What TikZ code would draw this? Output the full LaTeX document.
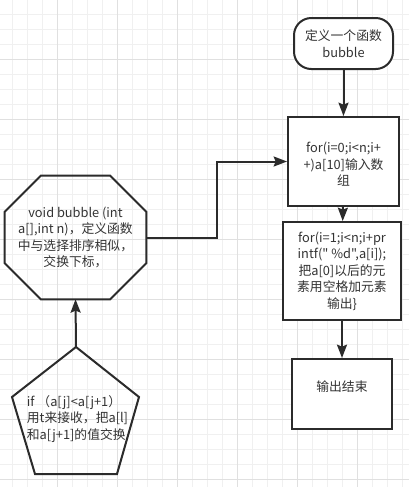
\documentclass[tikz,border=0pt]{standalone}
\usepackage{fontspec}
\setmainfont{Noto Sans CJK SC}[Ligatures=TeXOff]
\usetikzlibrary{arrows.meta}

\definecolor{ink}{HTML}{2B2B2B}
\definecolor{inktext}{HTML}{333333}
\definecolor{gridminor}{HTML}{F0F0F0}
\definecolor{gridmajor}{HTML}{E0E0E0}

\tikzset{
  txt/.style={text=inktext, font=\fontsize{9.6}{12.4}\selectfont, inner sep=2pt},
  box/.style={txt, draw=ink, line width=1.5pt, align=center},
  outline/.style={draw=ink, line width=1.5pt, line join=miter},
  flow/.style={ink, line width=1.5pt, -{Stealth[length=10pt,width=7.5pt,inset=1.5pt]}}
}

\begin{document}
\begin{tikzpicture}[x=0.75pt,y=-0.75pt]
\useasboundingbox (0,0) rectangle (409,487);
\fill[white] (0,0) rectangle (409,487);
\foreach \gx in {12.5,27.5,...,409} \draw[gridminor,line width=0.75pt] (\gx,0) -- (\gx,487);
\foreach \gy in {14.5,29.5,...,487} \draw[gridminor,line width=0.75pt] (0,\gy) -- (409,\gy);
\foreach \gx in {57.5,117.5,...,409} \draw[gridmajor,line width=0.75pt] (\gx,0) -- (\gx,487);
\foreach \gy in {59.5,119.5,...,487} \draw[gridmajor,line width=0.75pt] (0,\gy) -- (409,\gy);

\node[box, fill=white, rounded corners=13pt, minimum width=74.25pt, minimum height=38.25pt] (define) at (343.5,43.5) {定义一个函数\\bubble};
\node[box, fill=white, minimum width=83.25pt, minimum height=66.75pt] (forin) at (343.5,161.5) {\mbox{}\\for(i=0;i<n;i+\\+)a[10]输入数\\组};
\node[box, fill=white, minimum width=88.5pt, minimum height=73.5pt] (print) at (342,271) {for(i=1;i<n;i+pr\\intf(" \%d",a[i]);\\把a[0]以后的元\\素用空格加元素\\输出\}};
\node[box, fill=white, minimum width=75pt, minimum height=52.5pt] (done) at (342,394) {输出结束\\\mbox{}};

\node[txt, align=center, minimum width=105.75pt, minimum height=92.25pt] (bubble) at (75.5,237.5) {void bubble (int\\a[],int n)，定义函数\\中与选择排序相似，\\交换下标，};
\draw[outline] ([xshift=27pt]bubble.north west) -- ([xshift=-27pt]bubble.north east) -- ([yshift=-27pt]bubble.north east) -- ([yshift=27pt]bubble.south east) -- ([xshift=-27pt]bubble.south east) -- ([xshift=27pt]bubble.south west) -- ([yshift=27pt]bubble.south west) -- ([yshift=-27pt]bubble.north west) -- cycle;

% pentagon
\draw[outline] (76,347) coordinate (swapTop) -- (139,397) -- (117,474) -- (35,474) -- (12,397) -- cycle;
\node[txt, align=left, anchor=west] (swap) at (24,419) {if （a[j]<a[j+1）\\用t来接收，把a[l]\\和a[j+1]的值交换};

\path[draw,flow] (define) -- (forin);
\path[draw,flow] (forin) -- (print);
\path[draw,flow] (print) -- (done);
\path[draw,flow] (bubble.east) -- ++(71,0) |- (forin.west);
\path[draw,flow] (swapTop) -- (bubble.south);
\end{tikzpicture}
\end{document}
